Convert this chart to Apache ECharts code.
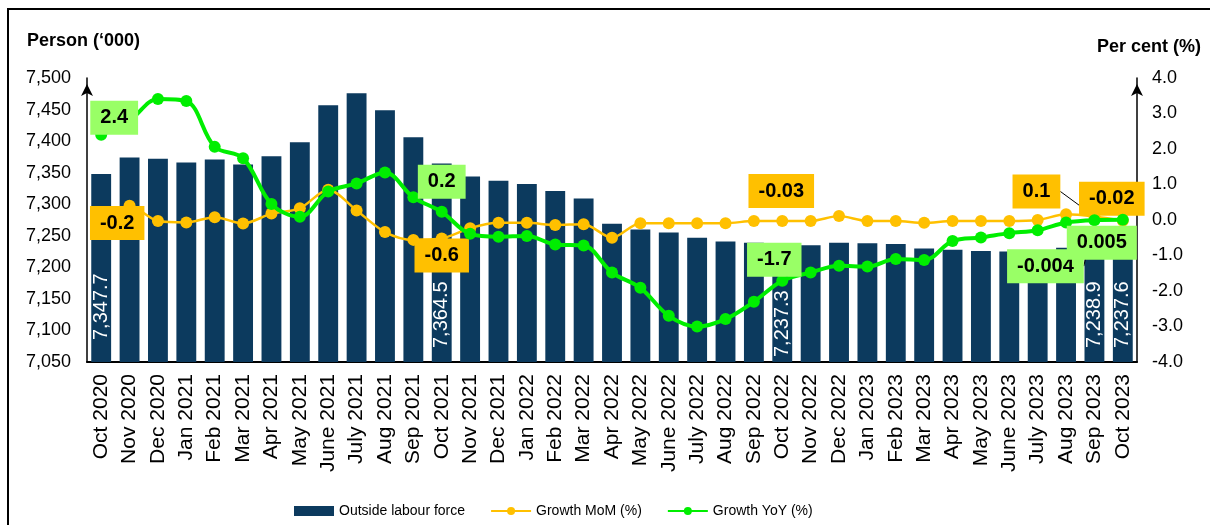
<!DOCTYPE html>
<html>
<head>
<meta charset="utf-8">
<script src="https://cdn.jsdelivr.net/npm/echarts@6/dist/echarts.min.js"></script>
<style>
html,body{margin:0;padding:0;background:#fff;}
#chart{width:1210px;height:525px;}
</style>
</head>
<body>
<div id="chart"></div>
<script>
const categories = ['Oct 2020','Nov 2020','Dec 2020','Jan 2021','Feb 2021','Mar 2021','Apr 2021','May 2021','June 2021','July 2021','Aug 2021','Sep 2021','Oct 2021','Nov 2021','Dec 2021','Jan 2022','Feb 2022','Mar 2022','Apr 2022','May 2022','June 2022','July 2022','Aug 2022','Sep 2022','Oct 2022','Nov 2022','Dec 2022','Jan 2023','Feb 2023','Mar 2023','Apr 2023','May 2023','June 2023','July 2023','Aug 2023','Sep 2023','Oct 2023'];

const outsideLabourForce = [7347.7,7374,7372,7366,7371,7363,7376,7398,7457,7476,7449,7406,7364.5,7344,7337,7332,7321,7309,7269,7260,7255,7247,7241,7239,7237.3,7235,7239,7238,7237,7230,7228,7226,7225,7224,7231,7238.9,7237.6];

const growthMoM = [-0.2,0.4,-0.03,-0.07,0.08,-0.1,0.18,0.33,0.85,0.27,-0.34,-0.56,-0.52,-0.23,-0.08,-0.08,-0.14,-0.12,-0.5,-0.09,-0.09,-0.09,-0.09,-0.03,-0.03,-0.03,0.11,-0.03,-0.03,-0.08,-0.03,-0.03,-0.03,0.0,0.16,0.1,-0.02];

const growthYoY = [2.4,2.8,3.41,3.35,2.06,1.74,0.45,0.09,0.8,1.03,1.34,0.64,0.23,-0.39,-0.47,-0.45,-0.69,-0.72,-1.48,-1.91,-2.7,-3.0,-2.79,-2.3,-1.71,-1.48,-1.29,-1.31,-1.1,-1.13,-0.59,-0.49,-0.37,-0.29,-0.07,-0.004,0.005];

// annotation texts (index -> text)
const barLabelIdx = [0,12,24,35,36];
const momLabels = {0:'-0.2',12:'-0.6',24:'-0.03',35:'0.1',36:'-0.02'};
const yoyLabels = {0:'2.4',12:'0.2',24:'-1.7',35:'-0.004',36:'0.005'};

const leftTicks = {min:7050,max:7500,interval:50};
const rightTicks = {min:-4,max:4,interval:1};

// ---- styling / placement (not data) ----
const FONT = "'Liberation Sans', Arial, sans-serif";
const barLabelDistance = {0:22,12:14,24:5,35:14,36:14};
const momShift = {0:[16,-4],12:[0,17],24:[-1,-30],35:[-58,-25],36:[-11,-22]};
const yoyShift = {0:[13,-17],12:[0,-30],24:[-8,-21],35:[-49,46],36:[-21,23]};
const momLeader = [35];
const yoyLeader = [35];

function fmtThousands(v, d){
  return Number(v).toLocaleString('en-US',{minimumFractionDigits:d,maximumFractionDigits:d});
}

const barData = outsideLabourForce.map((v,i)=>{
  if (barLabelIdx.indexOf(i) >= 0) {
    return {value:v, label:{show:true, distance:barLabelDistance[i]}};
  }
  return v;
});

function lineData(values, labels, leaders){
  return values.map((v,i)=>{
    if (labels[i] !== undefined) {
      return {value:v, label:{show:true}, labelLine:{show: leaders.indexOf(i)>=0}};
    }
    return {value:v, label:{show:false}};
  });
}

const boxLabel = (bg, labels) => ({
  show:false,
  position:'inside',
  formatter: p => labels[p.dataIndex] || '',
  backgroundColor: bg,
  color:'#000',
  fontFamily: FONT,
  fontWeight:'bold',
  fontSize:20,
  lineHeight:20,
  padding:[7,10,7,10]
});

const chart = echarts.init(document.getElementById('chart'), null, {renderer:'canvas'});

const option = {
  animation:false,
  backgroundColor:'#fff',
  textStyle:{fontFamily:FONT},
  grid:{left:87,right:73,top:78,bottom:163,containLabel:false},
  legend:{
    left:289, top:499,
    itemWidth:40, itemHeight:10, itemGap:25,
    textStyle:{fontFamily:FONT, fontSize:14, color:'#000'},
    data:[
      {name:'Outside labour force', icon:'rect'},
      {name:'Growth MoM (%)'},
      {name:'Growth YoY (%)'}
    ]
  },
  xAxis:{
    type:'category',
    data:categories,
    axisLine:{show:true, onZero:false, lineStyle:{color:'#000', width:2}},
    axisTick:{show:false},
    axisLabel:{interval:0, rotate:90, margin:12, fontSize:21, color:'#000', fontFamily:FONT}
  },
  yAxis:[
    {
      type:'value',
      min:leftTicks.min, max:leftTicks.max, interval:leftTicks.interval,
      position:'left',
      axisLine:{show:true, lineStyle:{color:'#000', width:1.5}, symbol:['none','arrow'], symbolSize:[9,12], symbolOffset:[0,-6]},
      axisTick:{show:false},
      splitLine:{show:false},
      axisLabel:{margin:16, fontSize:18, color:'#000', fontFamily:FONT, formatter:v=>fmtThousands(v,0)}
    },
    {
      type:'value',
      min:rightTicks.min, max:rightTicks.max, interval:rightTicks.interval,
      position:'right',
      axisLine:{show:true, lineStyle:{color:'#000', width:1.5}, symbol:['none','arrow'], symbolSize:[9,12], symbolOffset:[0,-6]},
      axisTick:{show:false},
      splitLine:{show:false},
      axisLabel:{margin:15, fontSize:18, color:'#000', fontFamily:FONT, formatter:v=>v.toFixed(1)}
    }
  ],
  series:[
    {
      name:'Outside labour force',
      type:'bar',
      yAxisIndex:0,
      data:barData,
      barCategoryGap:'30%',
      itemStyle:{color:'#0C3A5E'},
      label:{
        show:false,
        position:'insideBottom',
        rotate:90,
        align:'left',
        verticalAlign:'middle',
        color:'#fff',
        fontSize:20,
        fontFamily:FONT,
        formatter:p=>fmtThousands(p.value,1)
      },
      z:1
    },
    {
      name:'Growth MoM (%)',
      type:'line',
      yAxisIndex:1,
      data:lineData(growthMoM, momLabels, momLeader),
      smooth:0.3,
      symbol:'circle',
      symbolSize:12,
      itemStyle:{color:'#FFC000'},
      lineStyle:{color:'#FFC000', width:2.5},
      label:boxLabel('#FFC000', momLabels),
      labelLayout: p => {
        const s = momShift[p.dataIndex];
        return s ? {dx:s[0], dy:s[1]} : {};
      },
      labelLine:{show:false, lineStyle:{color:'#000', width:1}},
      z:3
    },
    {
      name:'Growth YoY (%)',
      type:'line',
      yAxisIndex:1,
      data:lineData(growthYoY, yoyLabels, yoyLeader),
      smooth:0.35,
      symbol:'circle',
      symbolSize:12,
      itemStyle:{color:'#00EE00'},
      lineStyle:{color:'#00EE00', width:4},
      label:boxLabel('#99FF66', yoyLabels),
      labelLayout: p => {
        const s = yoyShift[p.dataIndex];
        return s ? {dx:s[0], dy:s[1]} : {};
      },
      labelLine:{show:false, lineStyle:{color:'#000', width:1}},
      z:4
    }
  ],
  graphic:[
    {type:'rect', silent:true, shape:{x:8, y:9, width:1230, height:540}, style:{fill:null, stroke:'#000', lineWidth:2}},
    {type:'text', left:27, top:32, style:{text:"Person (\u2018000)", font:"bold 18px 'Liberation Sans', Arial, sans-serif", fill:'#000'}},
    {type:'text', right:9, top:38, style:{text:'Per cent (%)', font:"bold 18px 'Liberation Sans', Arial, sans-serif", fill:'#000'}}
  ]
};

chart.setOption(option);
</script>
</body>
</html>
